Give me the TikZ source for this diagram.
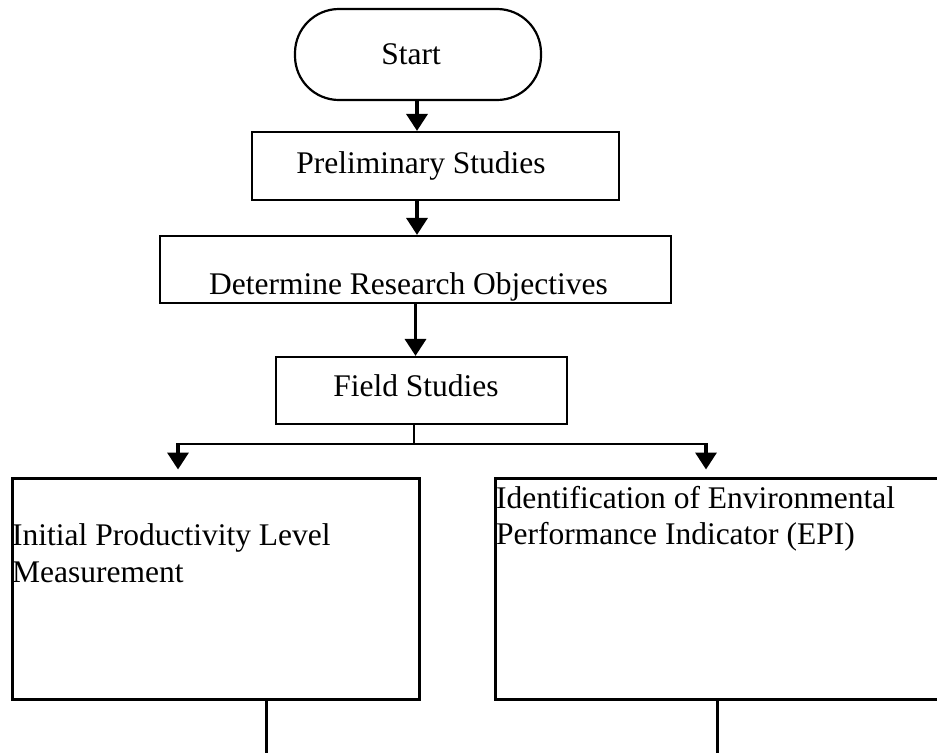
\documentclass[tikz,border=0pt]{standalone}
\usepackage{fontspec}
\setmainfont{Liberation Serif}
\usetikzlibrary{arrows.meta}
\begin{document}
\begin{tikzpicture}[x=1pt,y=-1pt,
  box/.style={draw,line width=2.2pt,rectangle,inner sep=0pt},
  bigbox/.style={draw,line width=3pt,rectangle,inner sep=0pt},
  lbl/.style={font=\fontsize{31.5}{36.5}\selectfont,inner sep=0pt,anchor=base},
  lbll/.style={font=\fontsize{31.5}{36.5}\selectfont,inner sep=0pt,anchor=base west},
  arr/.style={line width=3.5pt,-{Triangle[width=21pt,length=17pt]}},
  conn/.style={line width=2pt},
  tail/.style={line width=3pt}]
\clip (0,0) rectangle (937,753);
% boxes
\node[box,rounded corners=44pt,minimum width=246pt,minimum height=91pt] (start) at (418,54.5) {};
\node[box,minimum width=367pt,minimum height=68pt] (prelim) at (435.5,166) {};
\node[box,minimum width=511pt,minimum height=67pt] (determ) at (415.5,269.5) {};
\node[box,minimum width=291pt,minimum height=67pt] (field) at (421.5,390.5) {};
\node[bigbox,minimum width=407pt,minimum height=221pt] (left) at (215.5,588.5) {};
\node[bigbox,minimum width=455pt,minimum height=221pt] (right) at (722.5,588.5) {};
% texts
\node[lbl] (tstart) at (411,64) {Start};
\node[lbl] (tprelim) at (421,173) {Preliminary Studies};
\node[lbl] (tdeterm) at (408.5,294) {Determine Research Objectives};
\node[lbl] (tfield) at (416,396) {Field Studies};
\node[lbll] (tleft1) at (12,545) {Initial Productivity Level};
\node[lbll] (tleft2) at (12,582) {Measurement};
\node[lbll] (tright1) at (496,508) {Identification of Environmental};
\node[lbll] (tright2) at (496,544) {Performance Indicator (EPI)};
% connectors
\draw[arr] ([xshift=-1pt]start.south) -- ([xshift=-1pt]start.south |- prelim.north);
\draw[arr] ([xshift=-1pt]start.south |- prelim.south) -- ([xshift=-1pt]start.south |- determ.north);
\draw[arr] (determ.south) -- (determ.south |- field.north);
\coordinate (jn) at (414,444);
\coordinate (jl) at (178,444);
\coordinate (jr) at (706,444);
\draw[conn] (field.south -| jn) -- (jn);
\draw[conn] ([xshift=-1pt]jl) -- ([xshift=1pt]jr);
\draw[arr] ([yshift=1pt]jl) -- ([yshift=7pt]jl |- left.north);
\draw[arr] ([yshift=1pt]jr) -- ([yshift=7pt]jr |- right.north);
\coordinate (eL) at (266,753);
\coordinate (eR) at (717,753);
\draw[tail] (eL |- left.south) -- (eL);
\draw[tail] (eR |- right.south) -- (eR);
\end{tikzpicture}
\end{document}
